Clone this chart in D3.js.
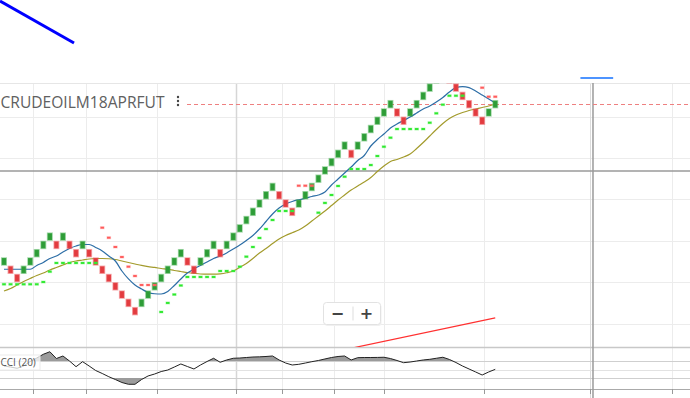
<!DOCTYPE html>
<html>
<head>
<meta charset="utf-8">
<script src="https://cdn.jsdelivr.net/npm/d3@7"></script>
<style>
body{margin:0;background:#fff;overflow:hidden}
svg{display:block}
</style>
</head>
<body>
<script>
// renko bricks (brick size 10)
var brickOpen=[4170,4170,4160,4160,4170,4180,4190,4200,4200,4200,4200,4190,4190,4190,4180,4170,4160,4150,4140,4130,
  4120,4120,4130,4140,4150,4160,4170,4180,4180,4170,4170,4180,4190,4190,4190,4200,4210,4220,4230,4240,
  4250,4260,4260,4250,4240,4240,4250,4260,4270,4280,4290,4300,4310,4310,4310,4320,4330,4340,4350,4360,
  4360,4350,4350,4360,4370,4380,4390,4400,4400,4390,4380,4370,4360,4350,4350,4360]
var brickClose=[4180,4160,4150,4170,4180,4190,4200,4210,4190,4210,4190,4180,4200,4180,4170,4160,4150,4140,4130,4120,
  4110,4130,4140,4150,4160,4170,4180,4190,4170,4160,4180,4190,4200,4180,4200,4210,4220,4230,4240,4250,
  4260,4270,4250,4240,4230,4250,4260,4270,4280,4290,4300,4310,4320,4300,4320,4330,4340,4350,4360,4370,
  4350,4340,4360,4370,4380,4390,4400,4410,4390,4380,4370,4360,4350,4340,4360,4370]
// moving averages
var maFast=[4165.6,4165.6,4165.6,4165.6,4165.6,4170.2,4173.8,4178.6,4181.6,4186.5,4190.7,4193.7,4195.5,4195.5,4191.9,4187.7,4181.6,4175.6,4163.5,4153.9,
  4146.6,4141.8,4137.6,4136,4135.7,4138.8,4146,4153.9,4161.1,4165.9,4170.2,4174.4,4178.6,4181.6,4185.3,4190.1,4194.9,4200.4,4206.4,4214.2,
  4223.3,4232.4,4239.6,4244.4,4247.5,4249.6,4251.3,4253.5,4255.3,4258.9,4267.4,4274.6,4281.9,4289.1,4297,4303,4314.5,4322.3,4329,4336.2,
  4341.1,4345.3,4349.5,4354.3,4359.2,4362.8,4367.6,4373.1,4379.7,4385.1,4386.3,4385.1,4380.9,4376.1,4371.2,4366.4]
var maSlow=[4139.4,4142.4,4146.6,4150.8,4154.5,4158.1,4161.1,4164.7,4167.8,4170.8,4173.8,4175.6,4176.8,4178,4178.6,4178.6,4178.3,4177.4,4175.6,4173.8,
  4172,4170.2,4168.7,4167.8,4166.5,4165.6,4164.1,4162.9,4161.7,4160.7,4159.9,4159.7,4159.7,4160.1,4161.4,4163.5,4167.8,4172.6,4178.6,4185.3,
  4190.7,4196.7,4202.2,4206.4,4209.7,4213,4217.9,4223.9,4229.9,4236,4242.6,4249.3,4255.3,4261.3,4266.2,4271,4276.4,4283.7,4290.3,4295.8,
  4298.2,4301.2,4304.8,4311.5,4318.7,4326.6,4334.4,4341.7,4347.7,4351.9,4354.9,4357.4,4359.2,4361,4362.8,4365.2]
// parabolic SAR, L = below (long), S = above (short)
var sarValue=[4147.5,4147.5,4147.5,4147.5,4147.5,4147.5,4150.2,4162.7,4173.2,4173.2,4173.2,4173.2,4173.2,4173.2,4173.2,4215.8,4203.7,4192.5,4180.4,4168.7,
  4157.5,4146.6,4146.6,4146.6,4114,4124.9,4135.1,4146,4156.3,4156.3,4156.3,4156.3,4156.3,4163.5,4163.5,4163.5,4168.7,4180.8,4192.5,4203.4,
  4214.2,4225.1,4236,4236,4236,4266.5,4266.5,4266.5,4233.9,4245.7,4255.3,4266.2,4277.4,4286.7,4286.7,4286.7,4291.5,4302.4,4313.6,4324.5,
  4335,4335,4335,4335,4335,4342.6,4354,4364.4,4375.2,4375.2,4375.2,4406.3,4396.6,4384.9,4374,4374]
var sarSide="LLLLLLLLLLLLLLLSSSSSSSSSLLLLLLLLLLLLLLLLLLLLLSSSLLLLLLLLLLLLLLLLLLLLLLLSSSSS"
// CCI (20)
var cciValue=[41,29,14,41,94,135,179,209,129,159,100,33,92,41,-12,-47,-85,-118,-153,-174,
  -174,-118,-76,-53,-24,-6,29,65,35,6,53,94,132,85,112,132,135,141,147,149,
  153,159,112,76,53,61,76,92,106,124,141,153,159,112,139,141,141,142,144,129,
  106,80,88,100,112,120,132,144,118,82,41,6,-29,-65,-29,2]
var cciLevels=[100,0,-100]
// time grid (brick index positions)
var gridIdx=[4.43,12.52,23.36,35.42,42.44,50.38,58.02,73.28,89.47,101.98]
var sessionIdx=35.42
var priceGrid=[4100,4150,4200,4250,4300,4350]
var symbol="CRUDEOILM18APRFUT"
var cciLabel="CCI (20)"
var lastPrice=4364.6
var crossIdx=89.92, crossPrice=4284.3
// drawings: trend lines in (index, price)
var drawTop=[[-0.61,4489.6],[10.69,4438.9]]
var drawBlue=[[88.0,4396.6],[93.0,4396.6]]
var drawRed=[[50,4065.2],[75,4106.8]]

var W=690,H=398
var pane={top:83,bottom:347}
var cpane={top:347,bottom:389}

var svg=d3.select("body").append("svg").attr("width",W).attr("height",H)
var x=d3.scaleLinear().domain([-0.61,104.73]).range([0,W])
var y=d3.scaleLinear().domain([4071.7,4390.6]).range([pane.bottom,pane.top])
var yc=d3.scaleLinear().domain([-229.4,264.7]).range([cpane.bottom,cpane.top])

var defs=svg.append("defs")
defs.append("clipPath").attr("id","pclip").append("rect")
  .attr("x",0).attr("y",pane.top).attr("width",W).attr("height",pane.bottom-pane.top)
defs.append("clipPath").attr("id","cup").append("rect")
  .attr("x",0).attr("y",cpane.top).attr("width",W).attr("height",yc(100)-cpane.top)
defs.append("clipPath").attr("id","cdn").append("rect")
  .attr("x",0).attr("y",yc(-100)).attr("width",W).attr("height",cpane.bottom-yc(-100))

// top drawing (outside pane)
svg.append("path")
  .attr("d",d3.line().x(function(d){return x(d[0])}).y(function(d){return y(d[1])})(drawTop))
  .attr("stroke","#0000ff").attr("stroke-width",3).attr("fill","none")
svg.append("path")
  .attr("d",d3.line().x(function(d){return x(d[0])}).y(function(d){return y(d[1])})(drawBlue))
  .attr("stroke","#4d94ff").attr("stroke-width",2).attr("fill","none")

// grid
var grid=svg.append("g")
grid.selectAll(".hg").data(priceGrid).enter().append("line")
  .attr("x1",0).attr("x2",W)
  .attr("y1",function(d){return Math.round(y(d))+0.5}).attr("y2",function(d){return Math.round(y(d))+0.5})
  .attr("stroke","#ececec")
grid.selectAll(".vg").data(gridIdx).enter().append("line")
  .attr("x1",function(d){return Math.round(x(d))+0.5}).attr("x2",function(d){return Math.round(x(d))+0.5})
  .attr("y1",pane.top).attr("y2",function(d){return d>crossIdx-1&&d<crossIdx?H:cpane.bottom})
  .attr("stroke",function(d){return d==sessionIdx?"#d6d6d6":(d>crossIdx-1&&d<crossIdx?"#dcdcdc":"#ececec")})
  .attr("stroke-width",function(d){return d==sessionIdx?1.5:1})
grid.append("line").attr("x1",0).attr("x2",W).attr("y1",pane.top+0.5).attr("y2",pane.top+0.5).attr("stroke","#e6e6e6")

// cci pane lines
svg.append("line").attr("x1",0).attr("x2",W).attr("y1",cpane.top+0.5).attr("y2",cpane.top+0.5).attr("stroke","#c8c8c8").attr("stroke-width",1.5)
svg.selectAll(".cl").data(cciLevels).enter().append("line")
  .attr("x1",0).attr("x2",W)
  .attr("y1",function(d){return Math.round(yc(d))+0.5}).attr("y2",function(d){return Math.round(yc(d))+0.5})
  .attr("stroke",function(d){return d==0?"#e2e2e2":"#cfcfcf"})
svg.append("line").attr("x1",0).attr("x2",W).attr("y1",cpane.bottom+0.5).attr("y2",cpane.bottom+0.5).attr("stroke","#aaa").attr("stroke-width",1.2)
svg.selectAll(".tk").data(gridIdx).enter().append("line")
  .attr("x1",function(d){return Math.round(x(d))+0.5}).attr("x2",function(d){return Math.round(x(d))+0.5})
  .attr("y1",cpane.bottom).attr("y2",cpane.bottom+5).attr("stroke","#999")

// crosshair
svg.append("line").attr("x1",0).attr("x2",W).attr("y1",y(crossPrice)).attr("y2",y(crossPrice))
  .attr("stroke","#9a9a9a").attr("stroke-width",1.3)
svg.append("line").attr("x1",x(crossIdx)).attr("x2",x(crossIdx)).attr("y1",pane.top).attr("y2",H)
  .attr("stroke","#9a9a9a").attr("stroke-width",1.5)

// last price line
svg.append("line").attr("x1",187).attr("x2",W).attr("y1",y(lastPrice)).attr("y2",y(lastPrice))
  .attr("stroke","#ee8080").attr("stroke-dasharray","4,3").attr("stroke-width",1.2)

var plot=svg.append("g").attr("clip-path","url(#pclip)")

// moving averages
var idx=d3.range(brickClose.length)
plot.append("path").datum(idx)
  .attr("d",d3.line().x(function(i){return x(i)}).y(function(i){return y(maSlow[i])}).curve(d3.curveMonotoneX))
  .attr("stroke","#a39b2c").attr("stroke-width",1.2).attr("fill","none")
plot.append("path").datum(idx)
  .attr("d",d3.line().x(function(i){return x(i)}).y(function(i){return y(maFast[i])}).curve(d3.curveMonotoneX))
  .attr("stroke","#2d6ea6").attr("stroke-width",1.2).attr("fill","none")

// bricks
plot.selectAll(".brick").data(idx).enter().append("rect")
  .attr("x",function(i){return x(i)-2.2})
  .attr("width",4.4)
  .attr("y",function(i){return y(Math.max(brickOpen[i],brickClose[i]))+0.7})
  .attr("height",function(i){return Math.abs(y(brickOpen[i])-y(brickClose[i]))-1.4})
  .attr("fill",function(i){return brickClose[i]>brickOpen[i]?"#2e9c37":"#e23b3f"})
  .attr("stroke",function(i){return brickClose[i]>brickOpen[i]?"rgba(60,170,70,0.45)":"rgba(235,80,85,0.45)"})
  .attr("stroke-width",1.6)

// SAR
plot.selectAll(".sar").data(idx).enter().append("rect")
  .attr("x",function(i){return x(i)-1.8})
  .attr("width",3.6)
  .attr("y",function(i){return y(sarValue[i])-1})
  .attr("height",2)
  .attr("fill",function(i){return sarSide[i]=="L"?"#2ee82e":"#ff5a5a"})
  .attr("stroke",function(i){return sarSide[i]=="L"?"rgba(80,240,80,0.35)":"rgba(255,120,120,0.35)"})
  .attr("stroke-width",1)

// red trend line
plot.append("path")
  .attr("d",d3.line().x(function(d){return x(d[0])}).y(function(d){return y(d[1])})(drawRed))
  .attr("stroke","#ff3030").attr("stroke-width",1.2).attr("fill","none")

// CCI
var cline=d3.line().x(function(i){return x(i)}).y(function(i){return yc(cciValue[i])})
svg.append("path").datum(idx).attr("clip-path","url(#cup)")
  .attr("d",d3.area().x(function(i){return x(i)}).y0(yc(100)).y1(function(i){return yc(cciValue[i])}))
  .attr("fill","#9b9b9b")
svg.append("path").datum(idx).attr("clip-path","url(#cdn)")
  .attr("d",d3.area().x(function(i){return x(i)}).y0(yc(-100)).y1(function(i){return yc(cciValue[i])}))
  .attr("fill","#9b9b9b")
svg.append("path").datum(idx).attr("d",cline)
  .attr("stroke","#222").attr("stroke-width",1).attr("fill","none")

// cci label
svg.append("rect").attr("x",-2).attr("y",355).attr("width",42).attr("height",15)
  .attr("fill","rgba(255,255,255,0.75)").attr("stroke","#ececec")
svg.append("text").attr("x",0.5).attr("y",366).text(cciLabel)
  .attr("font-family","Open Sans, sans-serif").attr("font-size",10).attr("fill","#555")

// symbol label
svg.append("text").attr("x",0.5).attr("y",108).text(symbol)
  .attr("font-family","Open Sans, sans-serif").attr("font-size",16).attr("fill","#606060")
  .attr("textLength",164).attr("lengthAdjust","spacingAndGlyphs")
svg.selectAll(".dot").data([0,1,2]).enter().append("circle")
  .attr("cx",178).attr("cy",function(d){return 97+d*4}).attr("r",1.2).attr("fill","#444")

// zoom buttons
var zb=svg.append("g").attr("transform","translate(323.5,302.5)")
zb.append("rect").attr("x",1).attr("y",1.5).attr("width",57).attr("height",22).attr("rx",3).attr("fill","#f0f0f0")
zb.append("rect").attr("width",57).attr("height",22).attr("rx",3).attr("fill","#fff").attr("stroke","#e2e2e2")
zb.append("line").attr("x1",29.5).attr("x2",29.5).attr("y1",4).attr("y2",18).attr("stroke","#ddd")
zb.append("text").attr("x",14).attr("y",16.5).attr("text-anchor","middle").text("\u2212")
  .attr("font-family","DejaVu Sans, sans-serif").attr("font-weight","bold").attr("font-size",16).attr("fill","#444")
zb.append("text").attr("x",43).attr("y",16.5).attr("text-anchor","middle").text("+")
  .attr("font-family","DejaVu Sans, sans-serif").attr("font-weight","bold").attr("font-size",16).attr("fill","#444")
</script>
</body>
</html>
